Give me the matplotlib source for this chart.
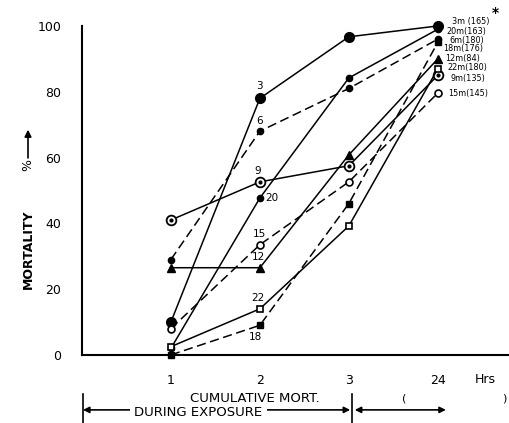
import matplotlib.pyplot as plt

# exposure time (hours) and % mortality per depth
hours = ['1', '2', '3', '24']
m3 = [10, 78, 96.7, 100]
m6 = [29, 68, 81, 96]
m9 = [41, 52.6, 57.5, 85]
m12 = [26.5, 26.5, 60.8, 90]
m15 = [8, 33.5, 52.6, 79.6]
m18 = [0, 9, 46, 95]
m20 = [2, 47.7, 84.2, 99]
m22 = [2.5, 14, 39.2, 87]

end_labels = ['3m (165)', '20m(163)', '6m(180)', '18m(176)', '12m(84)',
              '22m(180)', '9m(135)', '15m(145)']

x = range(len(hours))

fig = plt.figure(figsize=(5.09, 4.23), dpi=100)
ax = fig.add_axes([0.161, 0.161, 0.839, 0.801])

k = dict(color='black', lw=1.1, mec='black', clip_on=False)
ax.plot(x, m3, '-o', ms=7, mfc='black', **k)
ax.plot(x, m6, '--o', ms=4.5, mfc='black', dashes=(6, 3), **k)
ax.plot(x, m9, '-o', ms=7, mfc='white', mew=1.3, **k)
ax.plot(x, m9, 'o', ms=2, color='black', lw=0, clip_on=False)
ax.plot(x, m12, '-^', ms=6, mfc='black', **k)
ax.plot(x, m15, '--o', ms=5, mfc='white', mew=1.2, dashes=(6, 3), **k)
ax.plot(x, m18, '--s', ms=5, mfc='black', dashes=(6, 3), **k)
ax.plot(x, m20, '-o', ms=4.5, mfc='black', **k)
ax.plot(x, m22, '-s', ms=5, mfc='white', mew=1.2, **k)

# series numbers next to the 2-hour points
fs = 7.5
ax.annotate('3', (1, m3[1]), xytext=(0, 7), textcoords='offset pixels', ha='center', va='bottom', fontsize=fs)
ax.annotate('6', (1, m6[1]), xytext=(0, 5), textcoords='offset pixels', ha='center', va='bottom', fontsize=fs)
ax.annotate('9', (1, m9[1]), xytext=(-2, 6), textcoords='offset pixels', ha='center', va='bottom', fontsize=fs)
ax.annotate('20', (1, m20[1]), xytext=(5, 0), textcoords='offset pixels', ha='left', va='center', fontsize=fs)
ax.annotate('15', (1, m15[1]), xytext=(0, 6), textcoords='offset pixels', ha='center', va='bottom', fontsize=fs)
ax.annotate('12', (1, m12[1]), xytext=(-1, 6), textcoords='offset pixels', ha='center', va='bottom', fontsize=fs)
ax.annotate('22', (1, m22[1]), xytext=(-2, 6), textcoords='offset pixels', ha='center', va='bottom', fontsize=fs)
ax.annotate('18', (1, m18[1]), xytext=(-4, -12), textcoords='offset pixels', ha='center', va='center', fontsize=fs)

# depth labels at 24 h
end_vals = [m3[3], m20[3], m6[3], m18[3], m12[3], m22[3], m9[3], m15[3]]
end_off = [(14, 4), (9, -2), (12, -1), (5, -6), (7, 0), (10, 1), (13, -3), (10, 0)]
for lab, v, off in zip(end_labels, end_vals, end_off):
    ax.annotate(lab, (3, v), xytext=off, textcoords='offset pixels', ha='left', va='center',
                fontsize=6.5, fontstretch='condensed')
ax.annotate('*', (3, 100), xytext=(58, 13), textcoords='offset pixels', ha='center', va='center',
            fontsize=10, fontweight='bold')

ax.set_xlim(-1, 3.8)
ax.set_ylim(0, 103)
ax.set_xticks(list(x))
ax.set_xticklabels(hours)
ax.set_yticks([0, 20, 40, 60, 80, 100])
ax.tick_params(axis='both', length=2, width=1.5, direction='inout', labelsize=9)
ax.tick_params(axis='y', pad=14)
ax.tick_params(axis='x', pad=13)
for s in ['top', 'right']:
    ax.spines[s].set_visible(False)
ax.spines['left'].set_linewidth(1.5)
ax.spines['bottom'].set_linewidth(1.5)
ax.spines['left'].set_bounds(0, 100)

# axis captions
fig.text(0.055, 0.41, 'MORTALITY', rotation=90, ha='center', va='center', fontsize=9, fontweight='bold')
fig.text(0.055, 0.61, '%', rotation=90, ha='center', va='center', fontsize=9)
fig.add_artist(plt.Annotation('', xy=(0.055, 0.70), xytext=(0.055, 0.62), xycoords='figure fraction',
                              arrowprops=dict(arrowstyle='-|>', color='black', lw=1.2)))
fig.text(0.953, 0.102, 'Hrs', ha='center', va='center', fontsize=9)

# exposure bracket below the axis
arr = dict(arrowstyle='<|-|>', color='black', lw=1.2, shrinkA=0, shrinkB=0, mutation_scale=9)
fig.add_artist(plt.Annotation('', xy=(0.163, 0.031), xytext=(0.688, 0.031), xycoords='figure fraction',
                              arrowprops=arr))
fig.add_artist(plt.Annotation('', xy=(0.697, 0.031), xytext=(0.876, 0.031), xycoords='figure fraction',
                              arrowprops=arr))
fig.add_artist(plt.Line2D([0.163, 0.163], [0.0, 0.068], color='black', lw=1.2))
fig.add_artist(plt.Line2D([0.692, 0.692], [0.0, 0.068], color='black', lw=1.2))
fig.text(0.50, 0.058, 'CUMULATIVE MORT.', ha='center', va='center', fontsize=9.5)
fig.text(0.39, 0.024, 'DURING EXPOSURE', ha='center', va='center', fontsize=9.5,
         bbox=dict(fc='white', ec='none', pad=3))
fig.text(0.795, 0.059, '(', ha='center', va='center', fontsize=8)
fig.text(0.99, 0.059, ')', ha='center', va='center', fontsize=8)

fig.savefig('out.png', dpi=100)
